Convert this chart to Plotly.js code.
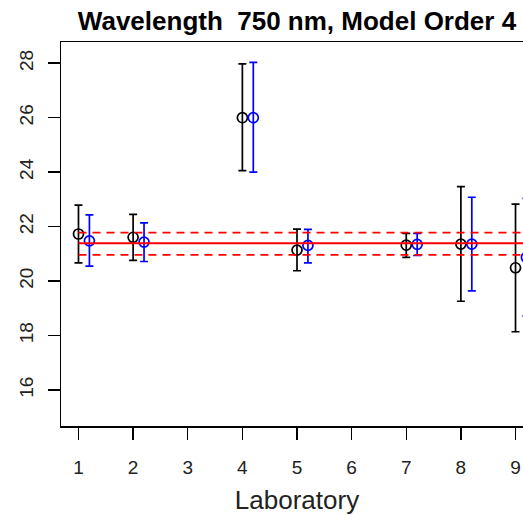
<!DOCTYPE html>
<html>
<head>
<meta charset="utf-8">
<script src="https://cdn.plot.ly/plotly-3.0.1.min.js"></script>
<style>
html,body{margin:0;padding:0;overflow:hidden;background:#fff;}
#chart{width:560px;height:515px;}
</style>
</head>
<body>
<div id="chart"></div>
<script>
// Laboratories present
const labs = [1, 2, 4, 5, 7, 8, 9];
// Series 1 (black)
const blackVal   = [21.73, 21.61, 26.00, 21.14, 21.32, 21.36, 20.49];
const blackLower = [20.67, 20.76, 24.06, 20.38, 20.87, 19.26, 18.14];
const blackUpper = [22.79, 22.45, 27.98, 21.91, 21.75, 23.47, 22.83];
// Series 2 (blue)
const blueVal    = [21.48, 21.43, 26.00, 21.31, 21.35, 21.36, 20.87];
const blueLower  = [20.55, 20.72, 24.00, 20.67, 20.94, 19.64, 18.72];
const blueUpper  = [22.43, 22.14, 28.03, 21.90, 21.75, 23.08, 23.04];
// Consensus value and its band
const consensus = 21.39;
const bandLow = 20.96;
const bandHigh = 21.78;
const xTicks = [1, 2, 3, 4, 5, 6, 7, 8, 9];
const yTicks = [16, 18, 20, 22, 24, 26, 28];

const offset = 0.2;
const blueX = labs.map(v => v + offset);
const lineX = [labs[0], labs[labs.length - 1] + offset];

function errTrace(x, val, lo, hi, color) {
  return {
    type: 'scatter', mode: 'markers', x: x, y: val,
    marker: {symbol: 'circle-open', size: 10, color: color, line: {width: 1.7, color: color}},
    error_y: {type: 'data', symmetric: false,
      array: hi.map((h, i) => h - val[i]),
      arrayminus: lo.map((l, i) => val[i] - l),
      color: color, thickness: 1.7, width: 4},
    cliponaxis: true, hoverinfo: 'x+y'
  };
}
function hline(yv, dash) {
  return {type: 'scatter', mode: 'lines', x: lineX, y: [yv, yv],
    line: {color: '#ff0000', width: 1.8, dash: dash}, hoverinfo: 'y'};
}

const traces = [
  errTrace(labs, blackVal, blackLower, blackUpper, '#000000'),
  errTrace(blueX, blueVal, blueLower, blueUpper, '#0000ff'),
  hline(consensus, 'solid'),
  hline(bandHigh, '8px,6px'),
  hline(bandLow, '8px,6px')
];

const font = 'Liberation Sans, Arial, Helvetica, sans-serif';
const layout = {
  width: 560, height: 515,
  margin: {l: 61, r: 27, t: 42, b: 89},
  paper_bgcolor: '#fff', plot_bgcolor: '#fff',
  showlegend: false,
  font: {family: font, color: '#000', size: 19},
  title: {text: 'Wavelength  750 nm, Model Order 4',
    font: {family: font, size: 26, weight: 700, color: '#000'},
    x: 0.5, xref: 'paper', xanchor: 'center',
    y: 1 - 21 / 515, yref: 'container', yanchor: 'middle'},
  xaxis: {
    range: [0.68, 9.32], tickvals: xTicks, ticktext: xTicks.map(String),
    ticks: 'outside', ticklen: 12, tickwidth: 1.5, tickcolor: '#000',
    showline: true, mirror: true, linecolor: '#000', linewidth: 1.5,
    showgrid: false, zeroline: false, ticklabelstandoff: 12,
    tickfont: {family: font, size: 19, color: '#222'},
    title: {text: 'Laboratory', font: {family: font, size: 26, color: '#222'}, standoff: 13}
  },
  yaxis: {
    range: [14.68, 28.78], tickvals: yTicks, ticktext: yTicks.map(String),
    ticks: 'outside', ticklen: 12, tickwidth: 1.5, tickcolor: '#000',
    tickangle: -90, ticklabelstandoff: 7,
    showline: true, mirror: true, linecolor: '#000', linewidth: 1.5,
    showgrid: false, zeroline: false,
    tickfont: {family: font, size: 19, color: '#222'}
  }
};

Plotly.newPlot('chart', traces, layout, {staticPlot: true, displayModeBar: false});
</script>
</body>
</html>
